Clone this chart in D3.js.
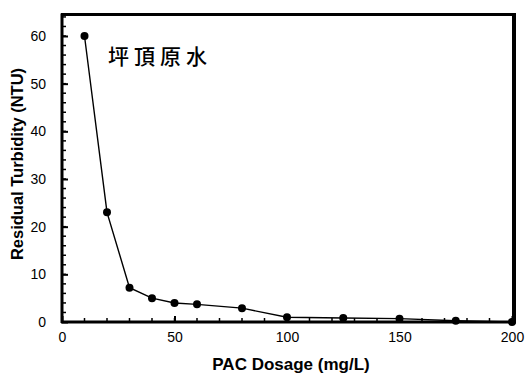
<!DOCTYPE html>
<html>
<head>
<meta charset="utf-8">
<script src="https://cdn.jsdelivr.net/npm/d3@7"></script>
<style>
    body { margin: 0; background: #fff; }
    svg { display: block; }
</style>
</head>
<body>
<div id="chart"></div>
<script>
// data
const dosage = [10, 20, 30, 40, 50, 60, 80, 100, 125, 150, 175, 200];
const turbidity = [60, 23, 7.2, 5.0, 4.0, 3.7, 2.9, 1.0, 0.85, 0.7, 0.25, 0];
const xTicks = [0, 50, 100, 150, 200];
const yTicks = [0, 10, 20, 30, 40, 50, 60];
const xMinor = d3.range(0, 201, 10);
const yMinor = d3.range(0, 65, 2);
const label = "坪頂原水";

const points = dosage.map((d, i) => ({ x: d, y: turbidity[i] }));

const width = 525, height = 376;

const x = d3.scaleLinear().domain([0, 200]).range([62, 512]);
const y = d3.scaleLinear().domain([0, 60]).range([322, 36]);
const yTop = y(64.5);

const svg = d3.select("#chart")
    .append("svg")
    .attr("width", width)
    .attr("height", height);

// minor ticks (inward)
svg.append("g")
    .selectAll("line")
    .data(yMinor)
    .enter().append("line")
    .attr("x1", x(0))
    .attr("x2", x(0) + 4)
    .attr("y1", d => y(d))
    .attr("y2", d => y(d))
    .attr("stroke", "#000")
    .attr("stroke-width", 1.5);

svg.append("g")
    .selectAll("line")
    .data(xMinor)
    .enter().append("line")
    .attr("x1", d => x(d))
    .attr("x2", d => x(d))
    .attr("y1", y(0))
    .attr("y2", y(0) - 4)
    .attr("stroke", "#000")
    .attr("stroke-width", 1.5);

// y axis
const yAxis = svg.append("g")
    .attr("transform", `translate(${x(0)},0)`)
    .call(d3.axisLeft(y).tickValues(yTicks).tickSize(-6).tickPadding(16));
yAxis.select(".domain").remove();
yAxis.selectAll(".tick line").attr("stroke-width", 2);
yAxis.selectAll(".tick text")
    .style("font-family", "'Liberation Sans', Arial, sans-serif")
    .style("font-size", "14px")
    .attr("fill", "#000");

// x axis
const xAxis = svg.append("g")
    .attr("transform", `translate(0,${y(0)})`)
    .call(d3.axisBottom(x).tickValues(xTicks).tickSize(-6).tickPadding(10));
xAxis.select(".domain").remove();
xAxis.selectAll(".tick line").attr("stroke-width", 2);
xAxis.selectAll(".tick text")
    .style("font-family", "'Liberation Sans', Arial, sans-serif")
    .style("font-size", "14px")
    .attr("fill", "#000");

// frame
const frame = svg.append("g").attr("stroke", "#000");
frame.append("line")
    .attr("x1", x(0)).attr("x2", x(0))
    .attr("y1", yTop - 1).attr("y2", y(0) + 1)
    .attr("stroke-width", 3);
frame.append("line")
    .attr("x1", x(0) - 1).attr("x2", x(200) + 4)
    .attr("y1", y(0)).attr("y2", y(0))
    .attr("stroke-width", 3);
frame.append("line")
    .attr("x1", x(0) - 1).attr("x2", x(200) + 4)
    .attr("y1", yTop).attr("y2", yTop)
    .attr("stroke-width", 3);
frame.append("line")
    .attr("x1", x(200) + 2).attr("x2", x(200) + 2)
    .attr("y1", yTop - 1).attr("y2", y(0) + 1)
    .attr("stroke-width", 4);

// curve
svg.append("path")
    .datum(points)
    .attr("fill", "none")
    .attr("stroke", "#000")
    .attr("stroke-width", 1.4)
    .attr("d", d3.line().x(d => x(d.x)).y(d => y(d.y)));

svg.selectAll(".dot")
    .data(points)
    .enter().append("circle")
    .attr("class", "dot")
    .attr("cx", d => x(d.x))
    .attr("cy", d => y(d.y))
    .attr("r", 4)
    .attr("fill", "#000");

// inset label
svg.append("text")
    .attr("x", 108)
    .attr("y", 64)
    .style("font-family", "'Noto Sans CJK TC', sans-serif")
    .style("font-size", "21px")
    .style("font-weight", "500")
    .style("letter-spacing", "5px")
    .attr("fill", "#000")
    .text(label);

// axis titles
svg.append("text")
    .attr("x", 291)
    .attr("y", 370)
    .attr("text-anchor", "middle")
    .style("font-family", "'Liberation Sans', Arial, sans-serif")
    .style("font-size", "17px")
    .style("font-weight", "bold")
    .text("PAC Dosage (mg/L)");

svg.append("text")
    .attr("transform", "translate(23,164) rotate(-90)")
    .attr("text-anchor", "middle")
    .style("font-family", "'Liberation Sans', Arial, sans-serif")
    .style("font-size", "16.5px")
    .style("font-weight", "bold")
    .text("Residual Turbidity (NTU)");
</script>
</body>
</html>
